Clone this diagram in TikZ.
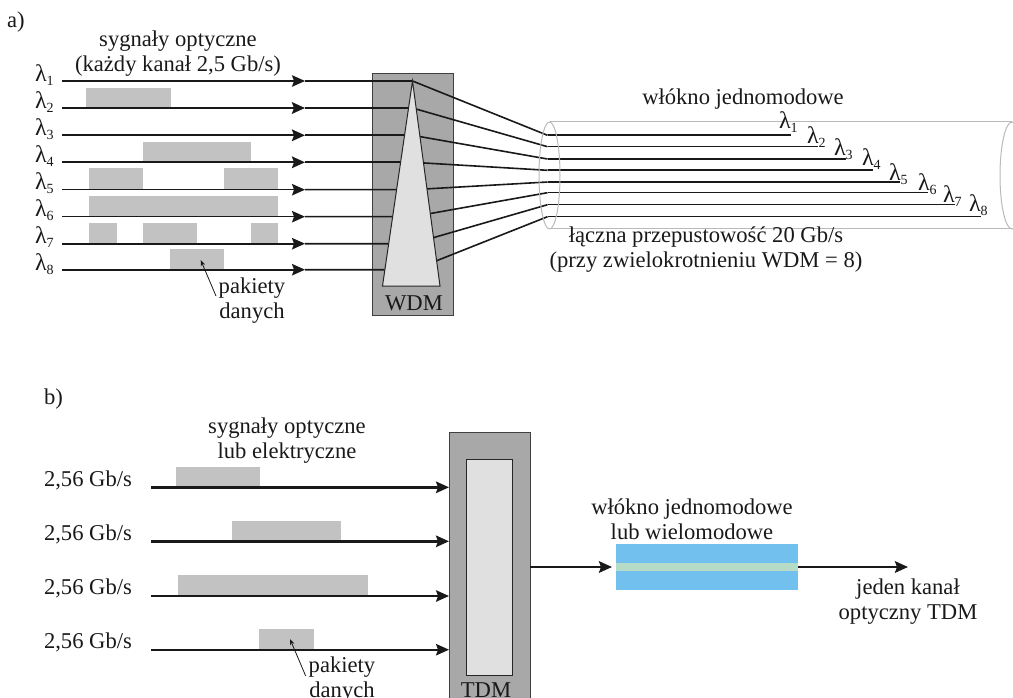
\documentclass[tikz,border=0pt]{standalone}
\usepackage{fontspec}
\setmainfont{Liberation Serif}
\usepackage{tikz}
\usetikzlibrary{arrows.meta}
\definecolor{fibblue}{HTML}{72C0EE}
\definecolor{fibcore}{HTML}{B6DCC8}
\newcommand{\lam}[1]{{\fontsize{24}{25}\selectfont λ}\raisebox{-0.45ex}{\fontsize{14}{14}\selectfont #1}}
\begin{document}
\begin{tikzpicture}[
			x=1pt, y=-1pt
			,every node/.append style={inner sep=0pt, outer sep=0pt}
			,txt/.style={align=center, text=black!90, font=\fontsize{22.6}{25}\selectfont}
			,lam/.style={txt, anchor=west}
			,pkt/.style={rectangle, fill=black!24}
			,unit/.style={rectangle, draw=black!75, line width=.9pt, fill=black!34}
			,core/.style={draw=black!85, line width=1pt, fill=black!12}
			,sig/.style={draw=black!90, line width=1.6pt}
			,sigb/.style={sig, line width=2.4pt}
			,tip/.style={-{Stealth[length=13pt, width=11.5pt, inset=2pt]}}
			,ins/.style={draw=black!40, line width=1.8pt}
			,tube/.style={draw=black!27, line width=1pt}
			,note/.style={draw=black!90, line width=.8pt, -{Stealth[length=6pt, width=4.5pt]}}
		]
			\clip (0,0) rectangle (1013,698);

			% a)
			\node [txt, anchor=west] (labA) at (7,22) {a)};
			\node [txt] (sygA) at (178,54) {sygnały optyczne\\(każdy kanał 2,5 Gb/s)};
			\node [lam] (L1) at (35,75) {\lam{1}};
			\node [lam] (L2) at (35,102) {\lam{2}};
			\node [lam] (L3) at (35,129) {\lam{3}};
			\node [lam] (L4) at (35,156) {\lam{4}};
			\node [lam] (L5) at (35,183) {\lam{5}};
			\node [lam] (L6) at (35,210) {\lam{6}};
			\node [lam] (L7) at (35,237) {\lam{7}};
			\node [lam] (L8) at (35,264) {\lam{8}};

			\node [pkt, minimum width=85, minimum height=19] (P2) at (128.5,97.5) {};
			\node [pkt, minimum width=108, minimum height=19] (P4) at (197,151.5) {};
			\node [pkt, minimum width=54, minimum height=21] (P5a) at (116,178.5) {};
			\node [pkt, minimum width=54, minimum height=21] (P5b) at (251,178.5) {};
			\node [pkt, minimum width=189, minimum height=20] (P6) at (183.5,206) {};
			\node [pkt, minimum width=28, minimum height=20] (P7a) at (103,233) {};
			\node [pkt, minimum width=54, minimum height=20] (P7b) at (170,233) {};
			\node [pkt, minimum width=27, minimum height=20] (P7c) at (264.5,233) {};
			\node [pkt, minimum width=54, minimum height=20] (P8) at (197,259) {};

			\node [unit, minimum width=81, minimum height=242] (WDM) at (412.5,194) {};
			\node [txt] (wdmT) at (414,303) {WDM};

			\coordinate (s1) at (62,81);
			\coordinate (s2) at (62,108);
			\coordinate (s3) at (62,135.3);
			\coordinate (s4) at (62,162.3);
			\coordinate (s5) at (62,189.7);
			\coordinate (s6) at (62,216.7);
			\coordinate (s7) at (62,243.7);
			\coordinate (s8) at (62,269.7);
			\coordinate (m1) at (305,81);
			\coordinate (m2) at (305,108);
			\coordinate (m3) at (305,135.3);
			\coordinate (m4) at (305,162.3);
			\coordinate (m5) at (305,189.7);
			\coordinate (m6) at (305,216.7);
			\coordinate (m7) at (305,243.7);
			\coordinate (m8) at (305,269.7);
			\coordinate (c1) at (412.5,81);
			\coordinate (c2) at (412.5,108);
			\coordinate (c3) at (412.5,135.3);
			\coordinate (c4) at (412.5,162.3);
			\coordinate (c5) at (412.5,189.7);
			\coordinate (c6) at (412.5,216.7);
			\coordinate (c7) at (412.5,243.7);
			\coordinate (c8) at (414,269.7);
			\coordinate (f1) at (547.5,135.3);
			\coordinate (f2) at (547.5,146.7);
			\coordinate (f3) at (547.5,159);
			\coordinate (f4) at (547.5,170.3);
			\coordinate (f5) at (547.5,182);
			\coordinate (f6) at (547.5,192.7);
			\coordinate (f7) at (547.5,204.7);
			\coordinate (f8) at (547.5,216.7);
			\coordinate (e1) at (791,135.3);
			\coordinate (e2) at (818,146.7);
			\coordinate (e3) at (846,159);
			\coordinate (e4) at (873,170.3);
			\coordinate (e5) at (900,182);
			\coordinate (e6) at (927.5,192.7);
			\coordinate (e7) at (954.5,204.7);
			\coordinate (e8) at (981,216.7);
			\coordinate (tA) at (412.5,81);
			\coordinate (tB) at (382.5,286);
			\coordinate (tC) at (440,286);

			\fill [black!12] (tA) -- (tB) -- (tC) -- cycle;
			\draw [sig, tip] (s1) -- (m1);
			\draw [sigb, tip] (s2) -- (m2);
			\draw [sigb, tip] (s3) -- (m3);
			\draw [sigb, tip] (s4) -- (m4);
			\draw [sig, tip] (s5) -- (m5);
			\draw [sig, tip] (s6) -- (m6);
			\draw [sig, tip] (s7) -- (m7);
			\draw [sig, tip] (s8) -- (m8);
			\draw [sig] (m1) -- (c1) -- (f1) (m5) -- (c5) -- (f5) (m6) -- (c6) -- (f6) (m7) -- (c7) -- (f7) (m8) -- (c8) -- (f8);
			\draw [sigb] (m2) -- (c2) (m3) -- (c3) (m4) -- (c4);
			\draw [sig] (c2) -- (f2) (c3) -- (f3) (c4) -- (f4);
			\begin{scope}
				\clip (tA) -- (tB) -- (tC) -- cycle;
				\draw [ins] (m2) -- (c2) -- (f2) (m3) -- (c3) -- (f3) (m4) -- (c4) -- (f4) (m5) -- (c5) -- (f5) (m6) -- (c6) -- (f6) (m7) -- (c7) -- (f7) (m8) -- (c8) -- (f8);
			\end{scope}
			\draw [core] (tA) -- (tB) -- (tC) -- cycle;

			\draw [tube] (549.5,122) -- (1012,122) (549.5,229) -- (1012,229);
			\draw [tube] (1012,175.5) ellipse [x radius=12, y radius=53.5];
			\draw [sigb] (f1) -- (e1);
			\draw [sig] (f2) -- (e2) (f3) -- (e3);
			\draw [sigb] (f4) -- (e4);
			\draw [sig] (f5) -- (e5) (f6) -- (e6) (f7) -- (e7) (f8) -- (e8);
			\draw [tube] (549.5,175.5) ellipse [x radius=10.5, y radius=53.5];

			\node [lam] (W1) at (779,122) {\lam{1}};
			\node [lam] (W2) at (807,137) {\lam{2}};
			\node [lam] (W3) at (834,149) {\lam{3}};
			\node [lam] (W4) at (862,159) {\lam{4}};
			\node [lam] (W5) at (889,174) {\lam{5}};
			\node [lam] (W6) at (918,184) {\lam{6}};
			\node [lam] (W7) at (943,196) {\lam{7}};
			\node [lam] (W8) at (969,205) {\lam{8}};

			\node [txt] (wlA) at (743,99) {włókno jednomodowe};
			\node [txt] (sumA) at (706,249.5) {łączna przepustowość 20 Gb/s\\(przy zwielokrotnieniu WDM = 8)};
			\node [txt] (pakA) at (252,300.5) {pakiety\\danych};
			\coordinate (pakAend) at (200.7,260);
			\draw [note] (216,296) -- (pakAend);

			% b)
			\node [txt, anchor=west] (labB) at (44,399) {b)};
			\node [txt] (sygB) at (287,440.5) {sygnały optyczne\\lub elektryczne};
			\node [lam] (R1) at (44,480) {2,56 Gb/s};
			\node [lam] (R2) at (44,534) {2,56 Gb/s};
			\node [lam] (R3) at (44,588) {2,56 Gb/s};
			\node [lam] (R4) at (44,642) {2,56 Gb/s};

			\node [pkt, minimum width=84, minimum height=20] (Q1) at (218,477) {};
			\node [pkt, minimum width=109, minimum height=20] (Q2) at (286.5,531) {};
			\node [pkt, minimum width=190, minimum height=20] (Q3) at (273,585) {};
			\node [pkt, minimum width=55, minimum height=20] (Q4) at (286.5,639) {};

			\node [unit, minimum width=81, minimum height=272] (TDM) at (489.5,568) {};
			\node [core, rectangle, minimum width=45.5, minimum height=216.5] (TDMin) at (489.5,567.7) {};
			\node [txt] (tdmT) at (486,690) {TDM};

			\coordinate (b1) at (151,487.3);
			\coordinate (b2) at (151,541.3);
			\coordinate (b3) at (151,596);
			\coordinate (b4) at (151,649.7);
			\draw [sigb, tip] (b1) -- (b1 -| TDM.west);
			\draw [sigb, tip] (b2) -- (b2 -| TDM.west);
			\draw [sig, tip] (b3) -- (b3 -| TDM.west);
			\draw [sig, tip] (b4) -- (b4 -| TDM.west);

			\node [rectangle, fill=fibblue, minimum width=182, minimum height=46] (FIB) at (707,567) {};
			\node [rectangle, fill=fibcore, minimum width=182, minimum height=8] (FIBcore) at (707,567) {};
			\coordinate (outB) at (908,567);
			\draw [sigb, tip, shorten >=4pt] (TDM.east |- FIB.west) -- (FIB.west);
			\draw [sigb, tip] (FIB.east) -- (outB);

			\node [txt] (wlB) at (692,519.5) {włókno jednomodowe\\lub wielomodowe};
			\node [txt] (outT) at (908,601.5) {jeden kanał\\optyczny TDM};
			\node [txt] (pakB) at (342,680) {pakiety\\danych};
			\coordinate (pakBend) at (290,639);
			\draw [note] (305.7,676) -- (pakBend);
		\end{tikzpicture}
\end{document}
